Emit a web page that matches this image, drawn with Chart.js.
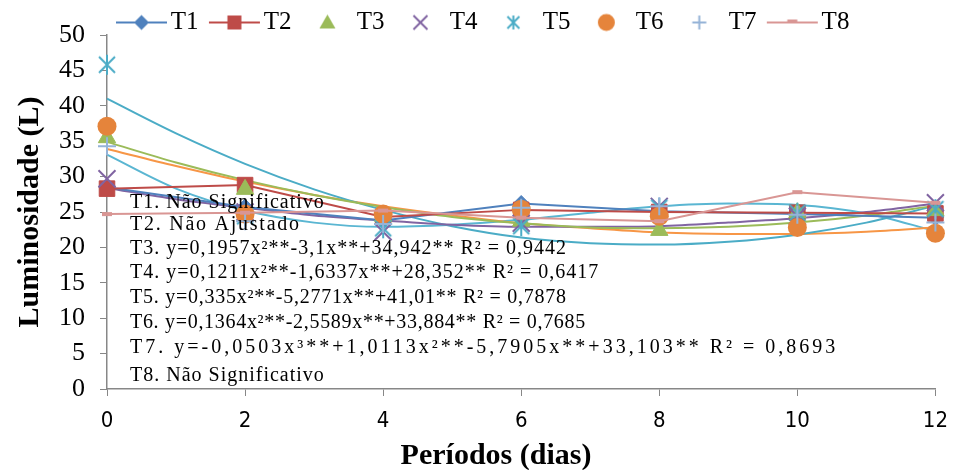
<!DOCTYPE html>
<html><head><meta charset="utf-8">
<script src="https://cdn.jsdelivr.net/npm/chart.js@4/dist/chart.umd.min.js"></script>
<style>html,body{margin:0;padding:0;background:#fff;}#wrap{width:960px;height:470px;}</style>
</head><body><div id="wrap"><canvas id="c" width="960" height="470"></canvas></div>
<script>
// ---- data ----
const days = [0, 2, 4, 6, 8, 10, 12];
const seriesNames = ['T1', 'T2', 'T3', 'T4', 'T5', 'T6', 'T7', 'T8'];
const T1 = [28.5, 25.7, 23.8, 26.2, 25.1, 24.7, 24.2];
const T2 = [28.3, 28.8, 24.3, 25.3, 25.0, 24.9, 24.8];
const T3 = [35.5, 28.2, 24.4, 23.7, 22.4, 24.9, 25.2];
const T4 = [29.7, 25.0, 22.2, 23.4, 25.8, 24.4, 26.3];
const T5 = [45.8, 24.4, 22.7, 23.0, 25.6, 24.9, 25.4];
const T6 = [37.1, 24.7, 24.7, 25.4, 24.4, 22.8, 22.0];
const T7 = [34.3, 23.7, 23.3, 25.6, 25.8, 24.6, 23.5];
const T8 = [24.7, 24.9, 25.2, 24.2, 23.7, 27.8, 26.3];
// trend lines, one value per day
const trendDays = [0, 1, 2, 3, 4, 5, 6, 7, 8, 9, 10, 11, 12];
const trendT3 = [34.9, 32.0, 29.5, 27.4, 25.7, 24.3, 23.4, 22.8, 22.7, 22.9, 23.5, 24.5, 25.9];
const trendT4 = [28.4, 26.8, 25.6, 24.5, 23.8, 23.2, 22.9, 22.9, 23.0, 23.5, 24.1, 25.0, 26.2];
const trendT5 = [41.0, 36.1, 31.8, 28.2, 25.3, 23.0, 21.4, 20.6, 20.4, 20.8, 21.8, 23.5, 25.9];
const trendT6 = [33.9, 31.5, 29.3, 27.4, 25.8, 24.5, 23.4, 22.7, 22.1, 21.9, 21.9, 22.2, 22.8];
const trendT7 = [33.1, 28.3, 25.2, 23.5, 22.9, 23.2, 23.9, 24.9, 25.8, 26.2, 26.0, 24.8, 22.3];
const yTickStep = 5;
const xTickStep = 2;
const xTitle = 'Períodos (dias)';
const yTitle = 'Luminosidade (L)';
const notes = [
  'T1. Não Significativo',
  'T2. Não Ajustado',
  'T3. y=0,1957x²**-3,1x**+34,942** R² = 0,9442',
  'T4. y=0,1211x²**-1,6337x**+28,352** R² = 0,6417',
  'T5. y=0,335x²**-5,2771x**+41,01** R² = 0,7878',
  'T6. y=0,1364x²**-2,5589x**+33,884** R² = 0,7685',
  'T7. y=-0,0503x³**+1,0113x²**-5,7905x**+33,103** R² = 0,8693',
  'T8. Não Significativo'
];

// ---- styling ----
const C = {
  T1: '#4F81BD', T2: '#BE4B48', T3: '#9BBB59', T4: '#8064A2',
  T5: '#4BACC6', T6: '#E5843B', T7: '#95B3D7', T8: '#D99694',
  tr7: '#5AB6D2', tr6: '#F79646'
};
const pts = (xs, ys) => xs.map((x, i) => ({x: x, y: ys[i]}));

function asteriskCanvas(color, size) {
  const cv = document.createElement('canvas');
  cv.width = size; cv.height = size;
  const g = cv.getContext('2d');
  g.strokeStyle = color; g.lineWidth = 2;
  const m = 3, c = size / 2;
  g.beginPath();
  g.moveTo(m, m); g.lineTo(size - m, size - m);
  g.moveTo(size - m, m); g.lineTo(m, size - m);
  g.moveTo(c, 1); g.lineTo(c, size - 1);
  g.stroke();
  return cv;
}
const asterisk = asteriskCanvas(C.T5, 22);

function drawMarker(g, kind, color, x, y) {
  g.fillStyle = color; g.strokeStyle = color; g.lineWidth = 2;
  g.beginPath();
  if (kind === 'diamond') { const r = 7.5; g.moveTo(x - r, y); g.lineTo(x, y - r); g.lineTo(x + r, y); g.lineTo(x, y + r); g.closePath(); g.fill(); }
  else if (kind === 'square') { g.rect(x - 7, y - 7, 14, 14); g.fill(); }
  else if (kind === 'triangle') { g.moveTo(x, y - 8); g.lineTo(x + 8, y + 6); g.lineTo(x - 8, y + 6); g.closePath(); g.fill(); }
  else if (kind === 'x') { const r = 7; g.moveTo(x - r, y - r); g.lineTo(x + r, y + r); g.moveTo(x + r, y - r); g.lineTo(x - r, y + r); g.stroke(); }
  else if (kind === 'asterisk') { const r = 6; g.moveTo(x - r, y - r); g.lineTo(x + r, y + r); g.moveTo(x + r, y - r); g.lineTo(x - r, y + r); g.moveTo(x, y - 7); g.lineTo(x, y + 7); g.stroke(); }
  else if (kind === 'circle') { g.arc(x, y, 8.5, 0, Math.PI * 2); g.fill(); }
  else if (kind === 'plus') { const r = 7; g.moveTo(x - r, y); g.lineTo(x + r, y); g.moveTo(x, y - r); g.lineTo(x, y + r); g.stroke(); }
  else if (kind === 'bar') { g.rect(x - 5, y - 3, 10, 4); g.fill(); }
}
function legendIcon(kind, color, withLine) {
  const cv = document.createElement('canvas');
  cv.width = 80; cv.height = 24;
  const g = cv.getContext('2d');
  if (withLine) { g.strokeStyle = color; g.lineWidth = 2; g.beginPath(); g.moveTo(24, 12); g.lineTo(75, 12); g.stroke(); }
  drawMarker(g, kind, color, 49.5, 12);
  return cv;
}
const legendIcons = [
  legendIcon('diamond', C.T1, true), legendIcon('square', C.T2, true),
  legendIcon('triangle', C.T3, false), legendIcon('x', C.T4, false),
  legendIcon('asterisk', C.T5, false), legendIcon('circle', C.T6, false),
  legendIcon('plus', C.T7, false), legendIcon('bar', C.T8, true)
];

const base = {type: 'line', clip: false, fill: false, tension: 0};
const datasets = [
  Object.assign({}, base, {label: 'T1', data: pts(days, T1), borderColor: C.T1, backgroundColor: C.T1, borderWidth: 2, pointStyle: 'rectRot', pointRadius: 8, pointBorderWidth: 1, order: 8}),
  Object.assign({}, base, {label: 'T2', data: pts(days, T2), borderColor: C.T2, backgroundColor: C.T2, borderWidth: 2, pointStyle: 'rect', pointRadius: 11, pointBorderWidth: 1, order: 7}),
  Object.assign({}, base, {label: 'T3', data: pts(days, T3), showLine: false, borderColor: C.T3, backgroundColor: C.T3, pointStyle: 'triangle', pointRadius: 10, pointBorderWidth: 1, order: 6}),
  Object.assign({}, base, {label: 'T4', data: pts(days, T4), showLine: false, borderColor: C.T4, backgroundColor: C.T4, pointStyle: 'crossRot', pointRadius: 12, pointBorderWidth: 2, order: 5}),
  Object.assign({}, base, {label: 'T5', data: pts(days, T5), showLine: false, borderColor: C.T5, backgroundColor: C.T5, pointStyle: asterisk, pointRadius: 10, order: 4}),
  Object.assign({}, base, {label: 'T6', data: pts(days, T6), showLine: false, borderColor: C.T6, backgroundColor: C.T6, pointStyle: 'circle', pointRadius: 9.5, pointBorderWidth: 0, order: 3}),
  Object.assign({}, base, {label: 'T7', data: pts(days, T7), showLine: false, borderColor: C.T7, backgroundColor: C.T7, pointStyle: 'cross', pointRadius: 9, pointBorderWidth: 2, order: 2}),
  Object.assign({}, base, {label: 'T8', data: pts(days, T8), borderColor: C.T8, backgroundColor: C.T8, borderWidth: 2, pointStyle: 'line', pointRadius: 5, pointBorderWidth: 4, order: 1})
];
const trend = (data, color) => Object.assign({}, base, {label: 'trend', data: pts(trendDays, data), borderColor: color, borderWidth: 2, pointRadius: 0, cubicInterpolationMode: 'monotone', order: 20});
datasets.push(trend(trendT3, C.T3), trend(trendT4, C.T4), trend(trendT5, C.T5), trend(trendT6, C.tr6), trend(trendT7, C.tr7));

const noteY = [203, 225, 249, 273, 298, 323, 348, 376];
const noteSpacing = [1, 1.75, 1, 1, 0.75, 0.7, 3, 1];
const notesPlugin = {
  id: 'notes',
  afterLayout(chart) { const l = chart.legend; if (l) { l.top += 10; l.bottom += 10; } },
  afterDraw(chart) {
    const ctx = chart.ctx;
    ctx.save();
    ctx.fillStyle = '#000';
    ctx.textBaseline = 'middle';
    ctx.textAlign = 'left';
    ctx.font = '20px "Liberation Serif", "Times New Roman", serif';
    notes.forEach((t, i) => {
      try { ctx.letterSpacing = noteSpacing[i] + 'px'; } catch (e) {}
      ctx.fillText(t, chart.chartArea.left + 23, noteY[i]);
    });
    try { ctx.letterSpacing = '0px'; } catch (e) {}
    ctx.textAlign = 'center';
    ctx.font = 'bold 30px "Liberation Serif", "Times New Roman", serif';
    ctx.fillText(xTitle, 496, 456);
    ctx.restore();
  }
};

const axisGray = '#878787';
new Chart(document.getElementById('c'), {
  type: 'line',
  data: {datasets: datasets},
  plugins: [notesPlugin],
  options: {
    responsive: false, animation: false, devicePixelRatio: 1,
    layout: {padding: {left: 14, right: 19, top: 0, bottom: 0}},
    plugins: {
      tooltip: {enabled: false},
      legend: {
        display: true, position: 'top',
        labels: {
          usePointStyle: true, pointStyleWidth: 52.7, padding: 0, color: '#000',
          font: {family: '"Liberation Serif", "Times New Roman", serif', size: 25},
          generateLabels: () => seriesNames.map((n, i) => ({text: n, pointStyle: legendIcons[i], fillStyle: 'rgba(0,0,0,0)', strokeStyle: 'rgba(0,0,0,0)', lineWidth: 0, hidden: false, datasetIndex: i, fontColor: '#000'}))
        }
      }
    },
    scales: {
      x: {
        type: 'linear', min: 0, max: 12,
        afterFit: (s) => { s.height = 81; },
        ticks: {stepSize: xTickStep, padding: 12, color: '#000', font: {family: '"Liberation Sans Narrow", "DejaVu Sans Condensed", "Liberation Sans", sans-serif', size: 22}},
        grid: {drawOnChartArea: false, drawTicks: true, tickLength: 7, color: axisGray, lineWidth: 1},
        border: {display: true, color: axisGray, width: 1.5},
        title: {display: false, text: xTitle}
      },
      y: {
        type: 'linear', min: 0, max: 50,
        afterFit: (s) => { s.width = 93; },
        ticks: {stepSize: yTickStep, padding: 15, color: '#000', font: {family: '"Liberation Serif", "Times New Roman", serif', size: 26}},
        grid: {drawOnChartArea: false, drawTicks: true, tickLength: 7, color: axisGray, lineWidth: 1},
        border: {display: true, color: axisGray, width: 1.5},
        title: {display: true, text: yTitle, color: '#000', padding: {top: 1, bottom: 0}, font: {family: '"Liberation Serif", "Times New Roman", serif', size: 30, weight: 'bold', lineHeight: 1}}
      }
    }
  }
});
</script></body></html>
